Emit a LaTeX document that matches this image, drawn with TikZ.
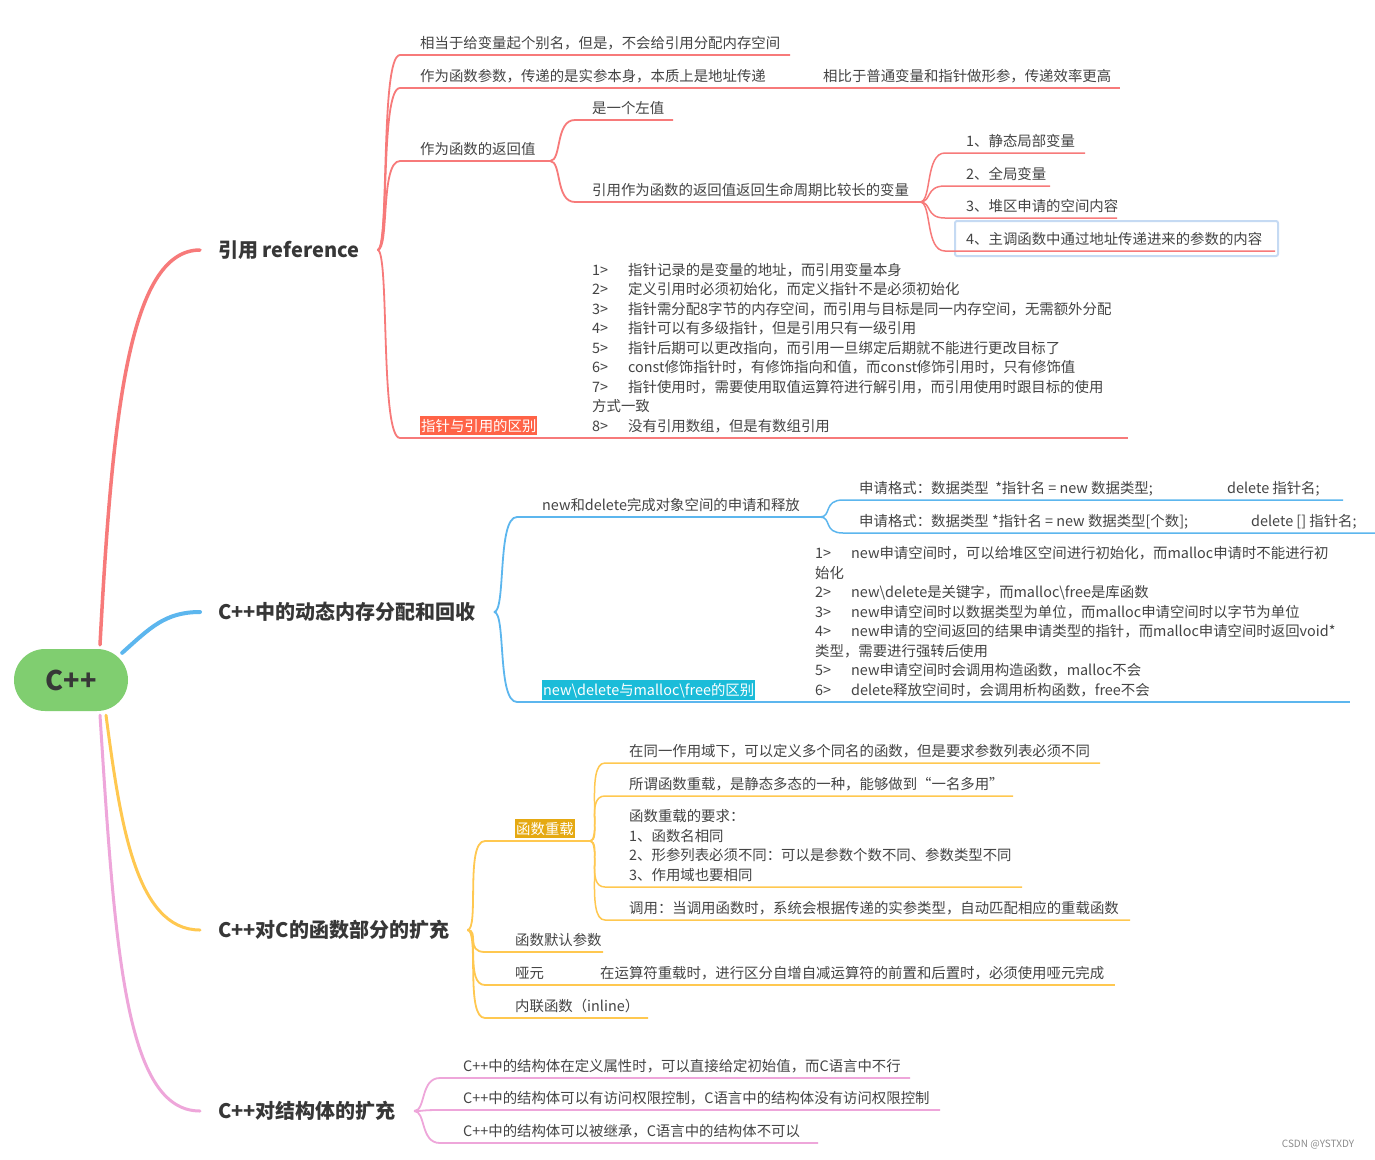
\documentclass[tikz,border=0pt]{standalone}
\usepackage{fontspec}
\setmainfont{Noto Sans CJK SC}
\usetikzlibrary{calc}

\definecolor{croot}{RGB}{128,206,112}
\definecolor{cref}{RGB}{247,122,122}
\definecolor{cmem}{RGB}{92,182,238}
\definecolor{cfun}{RGB}{255,200,80}
\definecolor{cstr}{RGB}{238,166,218}
\definecolor{ctop}{RGB}{55,55,55}
\definecolor{ctxt}{RGB}{68,68,68}
\definecolor{tagref}{RGB}{255,99,71}
\definecolor{tagmem}{RGB}{27,188,217}
\definecolor{tagfun}{RGB}{229,169,18}
\definecolor{selbox}{RGB}{197,218,243}

\newcommand{\idx}[1]{\makebox[36pt][l]{#1>}}
\newcommand{\block}[1]{\begin{tabular}[b]{@{}l@{}}#1\end{tabular}}

\begin{document}
\begin{tikzpicture}[
  x=1pt, y=-1pt,
  font=\fontsize{14.4}{19.5}\selectfont,
  rootnode/.style={fill=croot, rounded corners=31pt, minimum width=114pt,
    minimum height=62pt, text=ctop, font=\fontsize{27}{30}\selectfont\bfseries},
  topic/.style={anchor=west, text=ctop, inner xsep=18pt, inner ysep=2pt,
    font=\fontsize{20}{24}\selectfont\bfseries},
  sub/.style={text=ctxt, inner sep=0pt},
  tagr/.style={fill=tagref, text=white, inner xsep=1pt, inner ysep=2.5pt},
  tagm/.style={fill=tagmem, text=white, inner xsep=1pt, inner ysep=2.5pt},
  tagf/.style={fill=tagfun, text=white, inner xsep=1pt, inner ysep=2.5pt},
  trunk/.style={line width=3pt, line cap=round},
  refl/.style={draw=cref, line width=1.8pt},
  refthin/.style={draw=cref, line width=1.5pt},
  meml/.style={draw=cmem, line width=1.8pt},
  memthin/.style={draw=cmem, line width=1.5pt},
  funl/.style={draw=cfun, line width=1.8pt},
  funthin/.style={draw=cfun, line width=1.5pt},
  strl/.style={draw=cstr, line width=1.8pt},
  wm/.style={text=black!45, font=\fontsize{10}{12}\selectfont}
]
\useasboundingbox (0,0) rectangle (1375,1159);
\fill[white] (0,0) rectangle (1375,1159);

% --- macro for a branch: underline + connector from the parent ---
% #1 = line style, #2 = node style, #3 = name, #4 = parent,
% #5/#6 = left/right x of the underline, #7 = y of the underline,
% #8 = x of the text, #9 = text
\newcommand{\leaf}[9]{
  \coordinate (#3-l) at (#5,#7);
  \coordinate (#3-r) at (#6,#7);
  \node[sub,anchor=base west,#2] (#3) at (#8,#7-7) {#9};
  \draw[#1] (#4) .. controls +(12,0) and +(-20,0) .. (#3-l) -- (#3-r);
}

% root and main topics
\node[rootnode] (root) at (71,680) {C++};
\node[topic] (ref) at (200,250) {引用 reference};
\node[topic] (mem) at (200,612) {C++中的动态内存分配和回收};
\node[topic] (fun) at (200,930) {C++对C的函数部分的扩充};
\node[topic] (str) at (200,1111) {C++对结构体的扩充};

\draw[trunk,cref,line width=3.5pt] ($(root.north)+(29,-4)$) .. controls (112,420) and (128,250) .. (ref.west);
\draw[trunk,cmem,line width=4pt] ($(root.north east)+(-6,4)$) .. controls (150,628) and (165,612) .. (ref.west |- mem.west);
\draw[trunk,cfun] ($(root.south)+(35,4)$) .. controls (120,820) and (135,930) .. (fun.west);
\draw[trunk,cstr] ($(root.south)+(29,4)$) .. controls (115,950) and (125,1111) .. (str.west);

% --- 引用 reference ---
\leaf{refl}{}{alias}{ref.east}{400}{790}{55}{420}{相当于给变量起个别名，但是，不会给引用分配内存空间}
\leaf{refl}{}{param}{ref.east}{400}{803}{88}{420}{作为函数参数，传递的是实参本身，本质上是地址传递}
\leaf{refl}{}{effic}{param-r}{803}{1120}{88}{823}{相比于普通变量和指针做形参，传递效率更高}
\leaf{refl}{}{ret}{ref.east}{400}{550}{161}{420}{作为函数的返回值}
\leaf{refl}{}{lval}{ret-r}{575}{673}{120}{592}{是一个左值}
\leaf{refl}{}{life}{ret-r}{575}{920}{202}{592}{引用作为函数的返回值返回生命周期比较长的变量}
\draw[selbox,line width=2pt,rounded corners=2pt] (955,221) rectangle (1278,256);
\leaf{refthin}{}{v1}{life-r}{945}{1085}{153}{966}{1、静态局部变量}
\leaf{refthin}{}{v2}{life-r}{945}{1050}{186}{966}{2、全局变量}
\leaf{refthin}{}{v3}{life-r}{945}{1117}{218}{966}{3、堆区申请的空间内容}
\leaf{refthin}{}{v4}{life-r}{945}{1275}{251}{966}{4、主调函数中通过地址传递进来的参数的内容}
\leaf{refl}{tagr}{diff}{ref.east}{400}{575}{438}{420}{指针与引用的区别}
\leaf{refl}{}{difflist}{diff-r}{575}{1128}{438}{592}{\block{%
  \idx{1}指针记录的是变量的地址，而引用变量本身\\
  \idx{2}定义引用时必须初始化，而定义指针不是必须初始化\\
  \idx{3}指针需分配8字节的内存空间，而引用与目标是同一内存空间，无需额外分配\\
  \idx{4}指针可以有多级指针，但是引用只有一级引用\\
  \idx{5}指针后期可以更改指向，而引用一旦绑定后期就不能进行更改目标了\\
  \idx{6}const修饰指针时，有修饰指向和值，而const修饰引用时，只有修饰值\\
  \idx{7}指针使用时，需要使用取值运算符进行解引用，而引用使用时跟目标的使用\\
  方式一致\\
  \idx{8}没有引用数组，但是有数组引用}}

% --- 动态内存 ---
\leaf{meml}{}{newdel}{mem.east}{517}{820}{517}{542}{new和delete完成对象空间的申请和释放}
\leaf{memthin}{}{fmt1}{newdel-r}{843}{1343}{500}{859}{\makebox[368pt][l]{申请格式：数据类型\ \ *指针名 = new 数据类型;}delete 指针名;}
\leaf{memthin}{}{fmt2}{newdel-r}{843}{1375}{533}{859}{\makebox[392pt][l]{申请格式：数据类型 *指针名 = new 数据类型[个数];}delete [] 指针名;}
\leaf{meml}{tagm}{nvm}{mem.east}{517}{800}{702}{542}{new\textbackslash delete与malloc\textbackslash free的区别}
\leaf{meml}{}{nvmlist}{nvm-r}{800}{1350}{702}{815}{\block{%
  \idx{1}new申请空间时，可以给堆区空间进行初始化，而malloc申请时不能进行初\\
  始化\\
  \idx{2}new\textbackslash delete是关键字，而malloc\textbackslash free是库函数\\
  \idx{3}new申请空间时以数据类型为单位，而malloc申请空间时以字节为单位\\
  \idx{4}new申请的空间返回的结果申请类型的指针，而malloc申请空间时返回void*\\
  类型，需要进行强转后使用\\
  \idx{5}new申请空间时会调用构造函数，malloc不会\\
  \idx{6}delete释放空间时，会调用析构函数，free不会}}

% --- 函数部分的扩充 ---
\leaf{funl}{tagf}{ovl}{fun.east}{485}{590}{841}{515}{函数重载}
\leaf{funthin}{}{o1}{ovl-r}{605}{1100}{763}{629}{在同一作用域下，可以定义多个同名的函数，但是要求参数列表必须不同}
\leaf{funthin}{}{o2}{ovl-r}{605}{1013}{796}{629}{所谓函数重载，是静态多态的一种，能够做到“一名多用”}
\leaf{funthin}{}{o3}{ovl-r}{605}{1022}{887}{629}{\block{%
  函数重载的要求：\\
  1、函数名相同\\
  2、形参列表必须不同：可以是参数个数不同、参数类型不同\\
  3、作用域也要相同}}
\leaf{funthin}{}{o4}{ovl-r}{605}{1130}{920}{629}{调用：当调用函数时，系统会根据传递的实参类型，自动匹配相应的重载函数}
\leaf{funl}{}{dflt}{fun.east}{485}{603}{952}{515}{函数默认参数}
\leaf{funl}{}{dummy}{fun.east}{485}{585}{985}{515}{哑元}
\leaf{funl}{}{dummyuse}{dummy-r}{585}{1115}{985}{600}{在运算符重载时，进行区分自增自减运算符的前置和后置时，必须使用哑元完成}
\leaf{funl}{}{inl}{fun.east}{485}{648}{1018}{515}{内联函数（inline）}

% --- 结构体的扩充 ---
\leaf{strl}{}{s1}{str.east}{440}{910}{1078}{463}{C++中的结构体在定义属性时，可以直接给定初始值，而C语言中不行}
\leaf{strl}{}{s2}{str.east}{440}{940}{1110}{463}{C++中的结构体可以有访问权限控制，C语言中的结构体没有访问权限控制}
\leaf{strl}{}{s3}{str.east}{440}{818}{1143}{463}{C++中的结构体可以被继承，C语言中的结构体不可以}

\node[wm] (mark) at (1318,1145) {CSDN @YSTXDY};

\end{tikzpicture}
\end{document}
